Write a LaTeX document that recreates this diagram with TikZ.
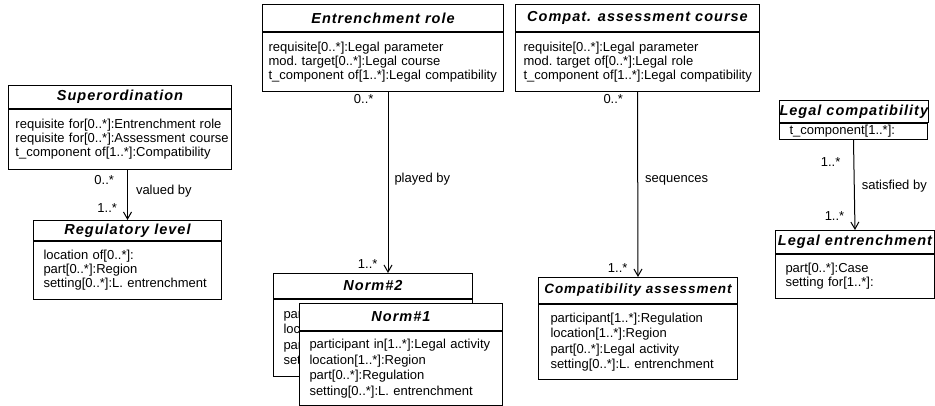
\documentclass[tikz,border=0pt]{standalone}
\usepackage{fontspec}
\setmainfont{Liberation Sans}
\newfontfamily\umlheadfamily[LetterSpace=7]{Liberation Sans}
\usetikzlibrary{arrows.meta,positioning}
\newcommand\umlhead{\umlheadfamily\bfseries\itshape\fontsize{14.5}{16}\selectfont}
\newcommand\umlheadsmall{\umlheadfamily\bfseries\itshape\fontsize{13.5}{16}\selectfont}
\newcommand\umlattr{\fontsize{13}{14}\selectfont}
\newcommand\umlattrwide{\fontsize{13}{15.5}\selectfont}

\begin{document}
\begin{tikzpicture}[x=1pt, y=-1pt, line width=1pt, >={Straight Barb[length=7pt,width=8pt]}]
\tikzset{
  classhead/.style={draw, fill=white, anchor=north west, font=\umlhead, inner sep=0pt},
  classbody/.style={draw, fill=white, anchor=north west, font=\umlattr, align=left, inner xsep=10pt, inner ysep=0pt,
    execute at begin node={\hyphenpenalty=10000\exhyphenpenalty=10000}},
  assoc/.style={->},
  mult/.style={font=\umlattr, inner sep=0pt}
}
\useasboundingbox (0,0) rectangle (935,406);

% classes
\node[classhead, minimum width=223pt, minimum height=23pt] (sup) at (8,85) {Superordination};
\node[classbody, inner xsep=7pt, text width=209pt, minimum height=60pt] (sup-att) at (sup.south west)
  {requisite~for[0..*]:Entrenchment~role\\requisite~for[0..*]:Assessment~course\\t\_component~of[1..*]:Compatibility};

\node[classhead, minimum width=188pt, minimum height=20pt] (reg) at (33,220) {Regulatory level};
\node[classbody, text width=168pt, minimum height=58pt] (reg-att) at (reg.south west)
  {location~of[0..*]:\\part[0..*]:Region\\setting[0..*]:L.~entrenchment};

\node[classhead, minimum width=241pt, minimum height=27pt] (role) at (262,4) {Entrenchment role};
\node[classbody, inner xsep=6pt, text width=229pt, minimum height=59pt] (role-att) at (role.south west)
  {requisite[0..*]:Legal~parameter\\mod.~target[0..*]:Legal~course\\t\_component~of[1..*]:Legal~compatibility};

\node[classhead, minimum width=244pt, minimum height=27pt] (course) at (515,4) {Compat. assessment course};
\node[classbody, inner xsep=8pt, text width=228pt, minimum height=59pt] (course-att) at (course.south west)
  {requisite[0..*]:Legal~parameter\\mod.~target~of[0..*]:Legal~role\\t\_component~of[1..*]:Legal~compatibility};

\node[classhead, minimum width=148pt, minimum height=22pt] (lcomp) at (779,100) {Legal compatibility};
\node[classbody, text width=128pt, minimum height=16pt] (lcomp-att) at (lcomp.south west)
  {t\_component[1..*]:};

\node[classhead, minimum width=159pt, minimum height=23pt] (lent) at (775,230) {Legal entrenchment};
\node[classbody, text width=139pt, minimum height=44pt] (lent-att) at (lent.south west)
  {part[0..*]:Case\\setting~for[1..*]:};

\node[classhead, minimum width=199pt, minimum height=25pt] (norm2) at (273,273) {Norm\#2};
\node[classbody, font=\umlattrwide, text width=179pt, minimum height=77pt] (norm2-att) at (norm2.south west)
  {participant~in[1..*]:Legal~activity\\location[1..*]:Region\\part[0..*]:Regulation\\setting[0..*]:L.~entrenchment};

\node[classhead, minimum width=203pt, minimum height=27pt] (norm1) at (299,303) {Norm\#1};
\node[classbody, font=\umlattrwide, text width=183pt, minimum height=74pt] (norm1-att) at (norm1.south west)
  {participant~in[1..*]:Legal~activity\\location[1..*]:Region\\part[0..*]:Regulation\\setting[0..*]:L.~entrenchment};

\node[classhead, font=\umlheadsmall, minimum width=199pt, minimum height=26pt] (cass) at (538,277) {Compatibility assessment};
\node[classbody, font=\umlattrwide, inner xsep=12pt, text width=175pt, minimum height=75pt] (cass-att) at (cass.south west)
  {participant[1..*]:Regulation\\location[1..*]:Region\\part[0..*]:Legal~activity\\setting[0..*]:L.~entrenchment};

% associations
\coordinate (playtop) at ([xshift=126pt]role-att.south west);
\draw[assoc] (sup-att.south -| reg.north) -- node[mult, pos=0.2, left=13pt] {0..*} node[mult, pos=0.42, right=8pt] {valued by} node[mult, pos=0.77, left=10pt] {1..*} (reg.north);
\draw[assoc] (playtop) -- node[mult, pos=0.04, left=14pt] {0..*} node[mult, pos=0.48, right=6pt] {played by} node[mult, pos=0.95, left=10pt] {1..*} (playtop |- norm2.north);
\draw[assoc] (course-att.south) -- node[mult, pos=0.04, left=14pt] {0..*} node[mult, pos=0.48, right=7pt] {sequences} node[mult, pos=0.95, left=10pt] {1..*} (cass.north);
\draw[assoc] (lcomp-att.south) -- node[mult, pos=0.24, left=13pt] {1..*} node[mult, pos=0.51, right=7pt] {satisfied by} node[mult, pos=0.85, left=10pt] {1..*} (lent.north);
\end{tikzpicture}
\end{document}
